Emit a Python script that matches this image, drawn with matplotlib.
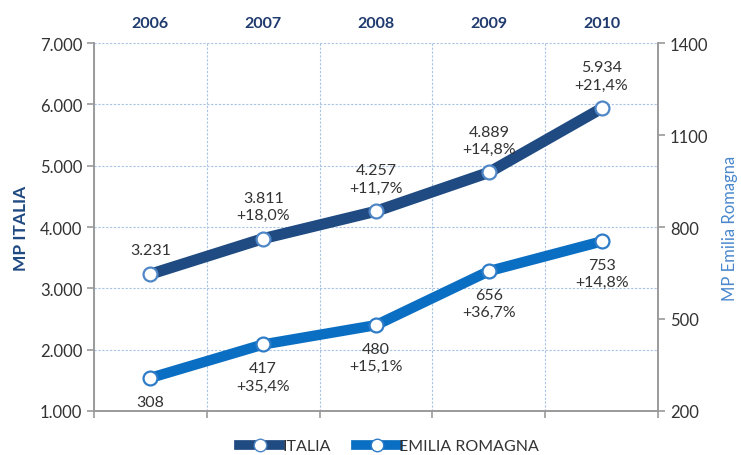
import numpy as np
import matplotlib.pyplot as plt
from matplotlib.lines import Line2D

plt.rcParams['font.family'] = ['Lato', 'DejaVu Sans']

# Dati
anni = ["2006", "2007", "2008", "2009", "2010"]
italia = [3231, 3811, 4257, 4889, 5934]
emilia = [308, 417, 480, 656, 753]

left_ticks = [1000, 2000, 3000, 4000, 5000, 6000, 7000]
right_ticks = [200, 500, 800, 1100, 1400]

col_it = "#1F4A82"
col_er = "#0A6FC2"
col_mk_it = "#4F86C6"
col_mk_er = "#2E7CC8"
grid_col = "#A8C3E3"
txt_col = "#333333"


def fmt_it(v):
    return f"{v:,.0f}".replace(",", ".")


def fmt_pct(cur, prev):
    return "+" + f"{(cur / prev - 1) * 100:.1f}".replace(".", ",") + "%"


fig = plt.figure(figsize=(7.41, 4.56), dpi=100)
ax = fig.add_axes([94 / 741, 1 - 412 / 456, (658 - 94) / 741, (412 - 44) / 456])
ax2 = ax.twinx()

x = np.arange(len(anni))

# Griglia
ax.set_xlim(-0.5, len(anni) - 0.5)
ax.set_xticks(np.arange(-0.5, len(anni)))
ax.set_xticklabels([])
ax.set_ylim(1000, 7000)
ax.set_yticks(left_ticks)
ax.set_yticklabels([fmt_it(v) for v in left_ticks])
ax.grid(True, color=grid_col, linestyle=(0, (2, 1.5)), linewidth=0.8)
ax.set_axisbelow(True)

ax2.set_ylim(200, 1400)
ax2.set_yticks(right_ticks)
ax2.set_yticklabels([str(v) for v in right_ticks])

for a in (ax, ax2):
    a.spines["top"].set_visible(False)
    for s in ("left", "right", "bottom"):
        a.spines[s].set_color("#9A9A9A")
        a.spines[s].set_linewidth(1.2)
    a.tick_params(colors="#9A9A9A", labelcolor=txt_col, labelsize=12, length=5, width=1.2)

# Linee
ax.plot(x, italia, color=col_it, lw=8, solid_capstyle="round",
        marker="o", ms=10, mfc="white", mec=col_mk_it, mew=1.6, zorder=3)
ax2.plot(x, emilia, color=col_er, lw=7.5, solid_capstyle="round",
         marker="o", ms=10, mfc="white", mec=col_mk_er, mew=1.6, zorder=3)

# Etichette dati
for i in range(len(anni)):
    if i == 0:
        t_it = fmt_it(italia[i])
        t_er = fmt_it(emilia[i])
    else:
        t_it = fmt_it(italia[i]) + "\n" + fmt_pct(italia[i], italia[i - 1])
        t_er = fmt_it(emilia[i]) + "\n" + fmt_pct(emilia[i], emilia[i - 1])
    ax.annotate(t_it, (x[i], italia[i]), xytext=(0, 12), textcoords="offset points",
                ha="center", va="bottom", fontsize=11.5, color=txt_col, linespacing=1.3)
    ax2.annotate(t_er, (x[i], emilia[i]), xytext=(0, -12), textcoords="offset points",
                 ha="center", va="top", fontsize=11.5, color=txt_col, linespacing=1.3)

# Anni in alto
for i, a in enumerate(anni):
    ax.text(x[i], 1.055, a, transform=ax.get_xaxis_transform(), ha="center",
            va="center", fontsize=11.5, fontweight="bold", color="#1F3A6E")

ax.set_ylabel("MP ITALIA", fontsize=12.5, fontweight="bold", color="#1F4A82", labelpad=8)
ax2.set_ylabel("MP Emilia Romagna", fontsize=12, color="#4A88CC", labelpad=10)

# Legenda
handles = [
    Line2D([], [], color=col_it, lw=7, marker="o", ms=9, mfc="white", mec=col_mk_it),
    Line2D([], [], color=col_er, lw=7, marker="o", ms=9, mfc="white", mec=col_mk_er),
]
fig.legend(handles, ["ITALIA", "EMILIA ROMAGNA"], loc="center",
           bbox_to_anchor=(0.525, 9 / 456), ncol=2, frameon=False, fontsize=11.5,
           handlelength=2.6, handletextpad=0.1, columnspacing=1.6,
           labelcolor=txt_col)

fig.savefig("out.png", dpi=100)
